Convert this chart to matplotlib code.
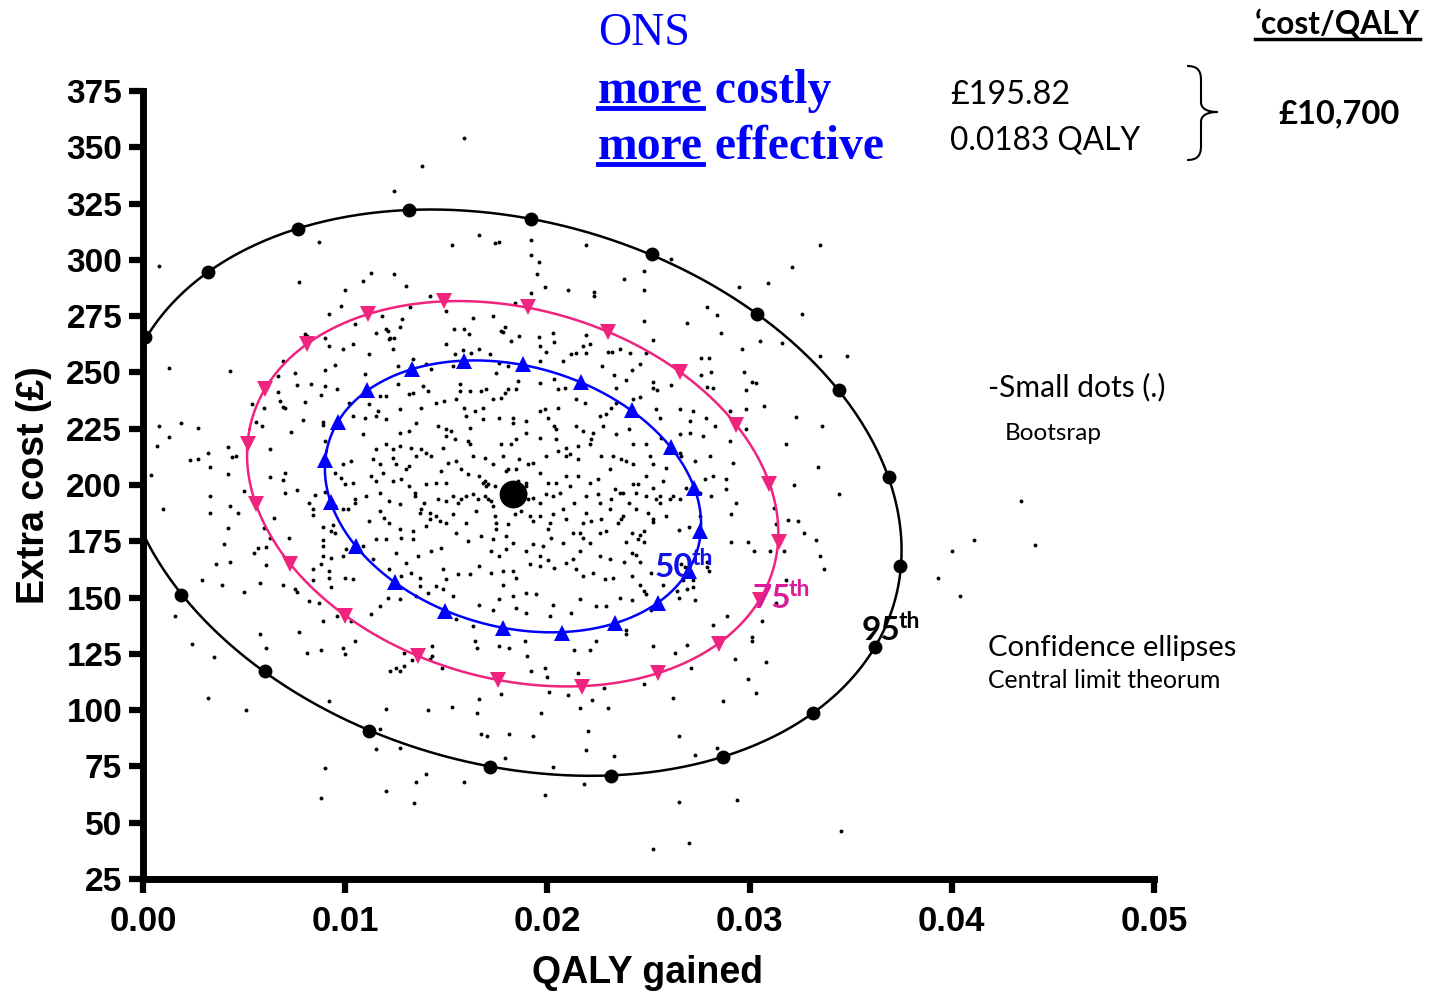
import numpy as np
import matplotlib
matplotlib.use("Agg")
import matplotlib.pyplot as plt
from matplotlib.lines import Line2D
from matplotlib.path import Path
from matplotlib.patches import PathPatch

W, H = 1437, 993

# mean result (ONS vs comparator)
mean_qaly = 0.0183
mean_cost = 195.82

# confidence ellipse markers (QALY, £)
e95 = [(0.00012, 265.6), (0.00319, 294.5), (0.00769, 313.6), (0.01318, 322.1),
       (0.01921, 318.1), (0.02515, 302.5), (0.03039, 275.8), (0.03440, 242.0),
       (0.03687, 203.4), (0.03746, 164.2), (0.03622, 128.2), (0.03316, 98.9),
       (0.02866, 79.3), (0.02317, 70.9), (0.01714, 74.9), (0.01120, 90.9),
       (0.00601, 117.6), (0.00190, 151.3)]
e75 = [(0.01491, 281.6), (0.01115, 275.8), (0.00809, 262.5), (0.00601, 242.5),
       (0.00517, 218.0), (0.00561, 191.4), (0.00725, 165.1), (0.00997, 142.0),
       (0.01358, 124.2), (0.01758, 113.6), (0.02169, 110.4), (0.02545, 116.7),
       (0.02851, 129.6), (0.03049, 149.1), (0.03143, 174.5), (0.03098, 200.3),
       (0.02935, 226.5), (0.02658, 250.1), (0.02302, 267.8), (0.01902, 279.0)]
e50 = [(0.01590, 254.9), (0.01877, 253.6), (0.02164, 245.6), (0.02416, 233.2),
       (0.02609, 216.7), (0.02727, 198.5), (0.02757, 179.4), (0.02698, 161.6),
       (0.02549, 147.8), (0.02332, 138.9), (0.02070, 134.4), (0.01778, 136.7),
       (0.01496, 144.2), (0.01244, 156.7), (0.01051, 173.1), (0.00932, 192.3),
       (0.00898, 210.9), (0.00962, 227.8), (0.01110, 242.1), (0.01328, 251.4)]

# bootstrap replicates (QALY, £)
boot_top = [(0.0159, 354.1), (0.0138, 341.7), (0.0124, 330.5), (0.0087, 307.9), (0.0008, 297.2),
            (0.0166, 311.0), (0.0153, 306.5), (0.0174, 307.4), (0.0176, 307.9), (0.0192, 308.8),
            (0.0192, 302.1), (0.0196, 299.0), (0.0195, 293.6), (0.0199, 287.9), (0.0192, 285.2),
            (0.0219, 306.5), (0.0210, 286.5), (0.0223, 285.6), (0.0223, 283.9), (0.0077, 290.1),
            (0.0113, 294.1), (0.0109, 290.5), (0.0124, 293.6), (0.0130, 288.3), (0.0100, 286.5),
            (0.0098, 279.4), (0.0092, 275.9), (0.0142, 283.9), (0.0132, 279.0), (0.0118, 275.0),
            (0.0128, 273.6), (0.0105, 271.4), (0.0127, 270.1), (0.0120, 269.2), (0.0121, 268.3),
            (0.0115, 267.4), (0.0150, 277.2), (0.0163, 274.1), (0.0173, 275.0), (0.0184, 280.7),
            (0.0154, 269.2), (0.0159, 269.2), (0.0161, 267.0), (0.0179, 270.1), (0.0177, 268.3),
            (0.0178, 267.9), (0.0186, 266.1), (0.0196, 265.6), (0.0203, 267.4), (0.0219, 266.5),
            (0.0080, 267.0), (0.0081, 266.1), (0.0122, 265.2), (0.0124, 265.2)]
boot_top_right = [(0.0335, 306.5), (0.0321, 296.8), (0.0309, 289.6), (0.0295, 287.9), (0.0261, 300.3),
                  (0.0248, 295.0), (0.0238, 291.4), (0.0248, 286.5), (0.0279, 279.0), (0.0284, 275.4),
                  (0.0326, 275.9), (0.0248, 272.7), (0.0269, 271.9), (0.0286, 267.4), (0.0305, 263.9),
                  (0.0316, 263.0), (0.0296, 260.3), (0.0335, 257.2), (0.0348, 257.2), (0.0252, 264.3),
                  (0.0230, 259.0), (0.0232, 259.0), (0.0236, 260.3), (0.0241, 258.5), (0.0249, 258.5),
                  (0.0276, 256.3), (0.0280, 256.3), (0.0246, 253.6), (0.0242, 251.0), (0.0233, 248.7),
                  (0.0239, 246.5), (0.0276, 248.7), (0.0281, 250.1), (0.0297, 250.1), (0.0301, 245.6),
                  (0.0303, 245.2), (0.0252, 245.6), (0.0252, 243.0), (0.0254, 242.1), (0.0261, 244.3),
                  (0.0279, 243.4), (0.0282, 243.0), (0.0298, 242.1), (0.0246, 239.0), (0.0234, 243.0),
                  (0.0227, 252.7),
                  (0.0307, 235.0), (0.0323, 230.0), (0.0336, 226.0), (0.0318, 218.0), (0.0334, 208.0),
                  (0.0322, 200.0), (0.0344, 196.0), (0.0312, 190.0)]
boot_left = [(0.0013, 251.8), (0.0043, 250.5), (0.0008, 226.1), (0.0019, 227.4), (0.0027, 225.2),
             (0.0013, 221.2), (0.0007, 217.2), (0.0023, 211.0), (0.0027, 211.4), (0.0032, 214.0),
             (0.0042, 216.7), (0.0044, 212.3), (0.0046, 212.7), (0.0033, 207.8), (0.0042, 204.7),
             (0.0004, 204.3), (0.0033, 195.0), (0.0050, 197.2), (0.0010, 189.2), (0.0043, 190.5),
             (0.0033, 187.4), (0.0047, 187.4), (0.0042, 180.7), (0.0040, 174.0), (0.0036, 165.1),
             (0.0043, 166.0), (0.0029, 157.6), (0.0039, 155.4), (0.0050, 152.3), (0.0016, 141.6),
             (0.0024, 129.6), (0.0035, 123.4), (0.0058, 133.6), (0.0061, 127.4), (0.0058, 156.3),
             (0.0061, 164.3), (0.0055, 170.0), (0.0057, 171.8), (0.0061, 172.3), (0.0065, 185.2),
             (0.0060, 180.7), (0.0063, 176.3), (0.0054, 235.8), (0.0056, 227.8), (0.0059, 226.1),
             (0.0060, 234.1), (0.0063, 215.8), (0.0063, 203.4), (0.0067, 241.2), (0.0068, 237.2),
             (0.0069, 234.5), (0.0070, 234.1), (0.0067, 248.3), (0.0069, 255.0), (0.0075, 249.6),
             (0.0076, 244.3), (0.0080, 236.7), (0.0083, 244.7), (0.0079, 228.7), (0.0073, 223.4),
             (0.0070, 205.2), (0.0069, 202.1), (0.0070, 196.3), (0.0076, 198.0), (0.0072, 176.3),
             (0.0082, 191.8), (0.0084, 189.2), (0.0085, 195.4), (0.0084, 186.5), (0.0069, 155.8),
             (0.0075, 154.0), (0.0076, 152.3), (0.0082, 148.3), (0.0087, 147.8), (0.0084, 158.0),
             (0.0084, 162.9), (0.0077, 134.9), (0.0081, 125.6), (0.0088, 126.5), (0.0089, 139.8),
             (0.0096, 141.6), (0.0099, 127.4), (0.0090, 265.2), (0.0092, 261.6), (0.0095, 253.2),
             (0.0090, 251.0), (0.0096, 242.5), (0.0090, 243.8), (0.0088, 239.8), (0.0089, 227.8),
             (0.0089, 226.5), (0.0090, 219.4), (0.0095, 205.2), (0.0098, 203.0), (0.0090, 196.7),
             (0.0095, 190.5), (0.0089, 181.2), (0.0093, 179.4), (0.0095, 178.5), (0.0094, 182.1),
             (0.0089, 175.4), (0.0089, 172.7), (0.0089, 168.3), (0.0093, 167.4), (0.0088, 165.1),
             (0.0092, 161.6), (0.0092, 158.9), (0.0093, 154.5)]
boot_bottom = [(0.0032, 105.6), (0.0051, 99.9), (0.0100, 125.1), (0.0105, 130.9), (0.0092, 104.2),
               (0.0090, 74.4), (0.0088, 61.1), (0.0117, 91.8), (0.0115, 82.9), (0.0127, 83.4),
               (0.0120, 100.7), (0.0120, 64.2), (0.0135, 68.2), (0.0140, 71.8), (0.0134, 58.9),
               (0.0159, 68.2), (0.0141, 100.2), (0.0153, 101.6), (0.0165, 98.9), (0.0166, 105.1),
               (0.0167, 89.6), (0.0170, 88.7), (0.0181, 89.6), (0.0193, 88.7), (0.0179, 78.9),
               (0.0177, 107.3), (0.0197, 98.9), (0.0201, 108.2), (0.0210, 106.9), (0.0216, 101.1),
               (0.0222, 104.7), (0.0220, 90.9), (0.0219, 82.5), (0.0203, 74.9), (0.0199, 62.4),
               (0.0218, 67.3), (0.0122, 117.6), (0.0125, 118.5), (0.0127, 117.6), (0.0129, 119.4),
               (0.0133, 122.1), (0.0129, 125.6), (0.0142, 122.9), (0.0143, 124.2), (0.0143, 128.7),
               (0.0148, 118.9), (0.0164, 130.5), (0.0165, 127.8), (0.0176, 128.7), (0.0181, 127.8),
               (0.0189, 130.5), (0.0190, 124.2), (0.0192, 117.6), (0.0199, 118.5), (0.0200, 114.5),
               (0.0215, 116.3), (0.0213, 126.9), (0.0221, 126.5), (0.0224, 130.9),
               (0.0252, 128.7), (0.0269, 129.1), (0.0263, 125.6), (0.0301, 130.5), (0.0293, 122.5),
               (0.0308, 121.6), (0.0271, 118.5), (0.0299, 114.0), (0.0303, 107.8), (0.0248, 111.4),
               (0.0228, 110.0), (0.0262, 105.6), (0.0287, 104.2), (0.0230, 101.1), (0.0265, 88.7),
               (0.0284, 83.3), (0.0273, 80.2), (0.0233, 79.8), (0.0265, 59.3), (0.0294, 60.2),
               (0.0345, 46.4), (0.0252, 38.4), (0.0270, 41.1)]
boot_right = [(0.0252, 183.4), (0.0265, 179.8), (0.0270, 181.2), (0.0242, 178.9), (0.0246, 178.0),
              (0.0248, 179.4), (0.0245, 175.8), (0.0248, 174.5), (0.0239, 174.9), (0.0242, 170.0),
              (0.0244, 169.1), (0.0238, 166.0), (0.0246, 165.6), (0.0251, 161.1), (0.0242, 159.4),
              (0.0266, 164.7), (0.0268, 163.8), (0.0279, 165.6), (0.0279, 163.8), (0.0280, 161.6),
              (0.0267, 157.6), (0.0272, 157.6), (0.0246, 155.8), (0.0257, 155.8), (0.0272, 154.9),
              (0.0248, 153.1), (0.0249, 151.8), (0.0264, 153.1), (0.0269, 153.6), (0.0265, 149.6),
              (0.0273, 148.7), (0.0242, 148.7), (0.0251, 144.7), (0.0239, 135.8), (0.0239, 133.6),
              (0.0291, 174.9), (0.0299, 174.5), (0.0302, 170.5), (0.0310, 170.5), (0.0317, 170.9),
              (0.0313, 182.5), (0.0319, 184.3), (0.0324, 183.8), (0.0327, 178.5), (0.0333, 175.4),
              (0.0335, 168.3), (0.0337, 162.9), (0.0318, 157.6), (0.0313, 147.8), (0.0289, 141.6),
              (0.0282, 137.6), (0.0306, 139.4), (0.0301, 132.7), (0.0393, 158.5), (0.0434, 192.7),
              (0.0411, 175.4), (0.0400, 170.9), (0.0441, 173.2), (0.0404, 150.9)]
boot_core = [(0.01038, 262.8), (0.00988, 260.6), (0.01236, 260.3), (0.01120, 258.1), (0.01219, 264.8),
             (0.01500, 262.5), (0.01541, 258.1), (0.01582, 260.0), (0.01623, 258.8), (0.01664, 260.6),
             (0.01821, 264.0), (0.01961, 261.8), (0.01994, 259.1), (0.02035, 263.3), (0.02176, 261.8),
             (0.02192, 258.8), (0.02209, 262.5), (0.02077, 255.1), (0.02118, 258.1), (0.02143, 258.8),
             (0.01961, 255.1), (0.01763, 254.4), (0.01714, 258.1),
             (0.01096, 249.2), (0.01260, 252.9), (0.01335, 255.9), (0.01401, 253.6), (0.01425, 251.4),
             (0.01533, 252.9), (0.01747, 249.9), (0.01805, 252.9), (0.01854, 246.2), (0.01846, 242.5),
             (0.01805, 242.5), (0.01788, 241.0), (0.01566, 241.8), (0.01615, 241.8), (0.01673, 241.8),
             (0.01697, 242.5), (0.01566, 244.7), (0.01961, 245.5), (0.02035, 247.0), (0.02052, 242.5),
             (0.02085, 243.3), (0.02143, 238.1), (0.02184, 236.6), (0.01384, 244.0), (0.01409, 241.8),
             (0.01335, 241.0), (0.01318, 240.3), (0.01260, 244.7), (0.01203, 239.6), (0.01170, 239.6),
             (0.01162, 232.9), (0.01120, 235.9), (0.01021, 236.6), (0.01038, 230.7),
             (0.01269, 233.6), (0.01376, 234.4), (0.01450, 236.6), (0.01491, 237.3), (0.01549, 238.1),
             (0.01590, 234.4), (0.01599, 230.7), (0.01640, 232.9), (0.01681, 234.4), (0.01730, 238.1),
             (0.01772, 238.8), (0.01829, 229.9), (0.01895, 228.4), (0.01961, 232.9), (0.01986, 233.6),
             (0.02052, 234.4), (0.02003, 229.9), (0.02035, 226.2), (0.02044, 224.7), (0.02143, 226.2),
             (0.02176, 224.0), (0.02225, 223.3), (0.02258, 230.7), (0.02291, 231.4), (0.02316, 234.4),
             (0.02341, 236.6), (0.02423, 238.1), (0.02538, 233.6), (0.02555, 229.9), (0.02654, 233.6),
             (0.02703, 228.4), (0.02720, 232.9), (0.02786, 229.9), (0.02827, 226.2), (0.02901, 232.9),
             (0.02984, 233.6),
             (0.01351, 227.7), (0.01318, 224.0), (0.01269, 223.3), (0.01203, 229.5), (0.01153, 230.7),
             (0.01096, 229.9), (0.01087, 222.5), (0.01458, 226.2), (0.01500, 224.7), (0.01524, 224.0),
             (0.01500, 221.8), (0.01541, 220.3), (0.01607, 219.5), (0.01615, 225.5), (0.01681, 229.2),
             (0.01763, 229.9), (0.01829, 227.7), (0.01772, 218.1), (0.01821, 218.1), (0.01846, 220.3),
             (0.01895, 223.3), (0.01961, 221.0), (0.02044, 220.3), (0.02093, 216.6), (0.02110, 213.6),
             (0.02151, 217.3), (0.02217, 220.3), (0.02275, 226.2), (0.02341, 222.5), (0.02406, 224.7),
             (0.02423, 218.1), (0.02489, 218.1), (0.02563, 221.0), (0.02654, 222.5), (0.02703, 223.3),
             (0.02769, 221.8), (0.02662, 212.9), (0.02728, 210.7), (0.02802, 212.9), (0.02901, 219.5),
             (0.02984, 224.7),
             (0.01153, 215.8), (0.01203, 218.1), (0.01236, 215.8), (0.01269, 217.3), (0.01326, 216.6),
             (0.01376, 215.8), (0.01351, 212.9), (0.01401, 214.4), (0.01425, 212.9), (0.01483, 216.6),
             (0.01549, 210.7), (0.01615, 218.1), (0.01631, 212.9), (0.01689, 212.1), (0.01730, 209.2),
             (0.01780, 212.9), (0.01805, 207.0), (0.01862, 211.4), (0.01904, 209.2), (0.01928, 209.9),
             (0.01994, 212.9), (0.02052, 215.1), (0.02093, 212.9), (0.02151, 211.4), (0.02209, 218.1),
             (0.02266, 212.9), (0.02324, 212.9), (0.02365, 211.4), (0.02390, 210.7), (0.02423, 209.2),
             (0.02505, 212.9), (0.02522, 209.2), (0.02588, 207.7), (0.02654, 214.4), (0.02778, 202.5),
             (0.02819, 204.0), (0.02885, 202.5), (0.02918, 209.9), (0.01137, 211.4), (0.01030, 210.7),
             (0.00988, 209.2), (0.01129, 204.0), (0.01153, 201.8), (0.01236, 212.1), (0.01252, 209.2),
             (0.01318, 208.4), (0.01302, 207.0), (0.01170, 209.2), (0.01186, 205.5), (0.01236, 201.8),
             (0.01277, 202.5), (0.01318, 199.5), (0.01343, 196.6), (0.01401, 200.3), (0.01450, 201.0),
             (0.01500, 201.0), (0.01475, 206.2), (0.01508, 209.9), (0.01574, 207.0), (0.01607, 204.7),
             (0.01664, 204.0), (0.01689, 201.8), (0.01706, 200.3), (0.01739, 199.5), (0.01796, 206.2),
             (0.01846, 207.0), (0.01854, 201.8), (0.01895, 201.0), (0.01961, 205.5), (0.02003, 201.0),
             (0.02044, 201.0), (0.02093, 204.0), (0.02151, 204.0), (0.02209, 201.0), (0.02250, 202.5),
             (0.02308, 207.0), (0.02332, 198.1), (0.02357, 196.6), (0.02423, 200.3), (0.02448, 200.3),
             (0.02489, 204.0), (0.02522, 198.8), (0.02571, 201.8), (0.02621, 195.1), (0.02654, 193.6),
             (0.02538, 193.6), (0.02555, 192.1),
             (0.01038, 201.0), (0.00997, 200.3), (0.00988, 189.2), (0.01013, 189.2), (0.01046, 192.1),
             (0.01046, 193.6), (0.01104, 195.1), (0.01170, 196.6), (0.01219, 192.9), (0.01269, 191.4),
             (0.01343, 195.1), (0.01392, 192.1), (0.01368, 187.7), (0.01417, 187.7), (0.01417, 184.7),
             (0.01450, 186.2), (0.01467, 184.0), (0.01458, 193.6), (0.01500, 192.9), (0.01533, 195.1),
             (0.01557, 192.1), (0.01574, 193.6), (0.01599, 195.1), (0.01631, 195.8), (0.01656, 193.6),
             (0.01689, 195.1), (0.01706, 193.6), (0.01722, 192.9), (0.01730, 190.7), (0.01681, 201.0),
             (0.01697, 199.5), (0.01895, 199.5), (0.01887, 196.6), (0.01904, 193.6), (0.01928, 194.4),
             (0.01961, 192.1), (0.01994, 195.8), (0.02027, 195.1), (0.02060, 196.6), (0.02110, 199.5),
             (0.02134, 192.1), (0.02192, 195.1), (0.02250, 195.8), (0.02258, 192.1), (0.02316, 193.6),
             (0.02374, 196.6), (0.02406, 192.1), (0.02439, 196.6), (0.02489, 195.1), (0.02555, 195.1),
             (0.02604, 193.6), (0.02687, 198.8), (0.02753, 196.6), (0.02811, 195.1), (0.02885, 198.1),
             (0.02934, 192.1),
             (0.01120, 184.0), (0.01170, 188.4), (0.01194, 185.5), (0.01219, 183.2), (0.01269, 180.3),
             (0.01335, 179.5), (0.01376, 189.2), (0.01401, 181.8), (0.01500, 183.2), (0.01533, 187.0),
             (0.01549, 178.8), (0.01599, 183.2), (0.01648, 188.4), (0.01739, 186.2), (0.01747, 183.2),
             (0.01747, 180.3), (0.01730, 175.8), (0.01796, 177.3), (0.01805, 182.5), (0.01838, 187.0),
             (0.01870, 188.4), (0.01912, 186.2), (0.01928, 184.0), (0.01961, 186.2), (0.02011, 183.2),
             (0.02003, 180.3), (0.02027, 187.0), (0.02077, 189.2), (0.02093, 184.7), (0.02126, 178.8),
             (0.02159, 178.8), (0.02176, 183.2), (0.02192, 187.7), (0.02217, 184.0), (0.02266, 184.7),
             (0.02258, 178.8), (0.02291, 179.5), (0.02308, 189.2), (0.02349, 183.2), (0.02365, 184.7),
             (0.02374, 186.2), (0.02439, 189.2), (0.02497, 187.7), (0.02522, 184.7), (0.02588, 186.2),
             (0.02753, 186.2), (0.02910, 187.0),
             (0.00988, 168.4), (0.01005, 171.4), (0.01087, 172.9), (0.01137, 167.0), (0.01153, 175.8),
             (0.01203, 175.8), (0.01277, 176.6), (0.01335, 175.8), (0.01252, 169.9), (0.01302, 165.5),
             (0.01359, 168.4), (0.01425, 170.6), (0.01475, 172.1), (0.01607, 175.1), (0.01673, 177.3),
             (0.01722, 170.6), (0.01763, 168.4), (0.01796, 171.4), (0.01829, 174.4), (0.01895, 170.6),
             (0.01928, 173.6), (0.01978, 172.9), (0.02019, 176.6), (0.02077, 174.4), (0.02126, 167.0),
             (0.02159, 170.6), (0.02176, 176.6), (0.02209, 174.4), (0.02258, 168.4), (0.02308, 167.0),
             (0.00997, 158.8), (0.01038, 158.1), (0.01219, 162.5), (0.01277, 159.5), (0.01326, 161.0),
             (0.01368, 158.8), (0.01368, 155.1), (0.01450, 155.1), (0.01483, 162.5), (0.01500, 158.1),
             (0.01557, 160.3), (0.01615, 160.3), (0.01664, 164.0), (0.01722, 161.0), (0.01780, 161.8),
             (0.01829, 161.8), (0.01846, 158.8), (0.01912, 164.7), (0.01961, 168.4), (0.02003, 166.9),
             (0.01961, 164.0), (0.02035, 163.2), (0.02093, 165.5), (0.02143, 162.5), (0.02176, 159.5),
             (0.02225, 161.0), (0.02283, 158.1), (0.02324, 158.8),
             (0.01030, 139.5), (0.01129, 142.5), (0.01170, 146.2), (0.01211, 149.9), (0.01269, 149.2),
             (0.01351, 150.6), (0.01409, 152.1), (0.01483, 153.6), (0.01533, 150.6), (0.01549, 140.3),
             (0.01631, 137.3), (0.01664, 146.9), (0.01730, 144.7), (0.01763, 149.2), (0.01780, 155.8),
             (0.01829, 150.6), (0.01846, 145.5), (0.01895, 152.1), (0.01945, 151.4), (0.01895, 143.2),
             (0.02011, 141.7), (0.02027, 146.9), (0.02118, 143.2), (0.02159, 149.2), (0.02242, 146.2),
             (0.02291, 146.2), (0.02357, 149.9)]

x_ticks = [0.00, 0.01, 0.02, 0.03, 0.04, 0.05]
y_ticks = list(range(25, 376, 25))


def fit_ellipse(points, n=600):
    # least-squares conic through the marker positions, returned as a closed curve
    q = np.array([p[0] for p in points]) * 1e4
    c = np.array([p[1] for p in points])
    mx, my = q.mean(), c.mean()
    u, v = q - mx, c - my
    A = np.column_stack([u * u, u * v, v * v, u, v])
    a, b, cc, d, e = np.linalg.lstsq(A, np.ones_like(u), rcond=None)[0]
    M = np.array([[a, b / 2], [b / 2, cc]])
    g = np.array([d, e])
    x0 = -np.linalg.solve(M, g) / 2
    k = 1 + x0 @ M @ x0
    w, V = np.linalg.eigh(M)
    t = np.linspace(0, 2 * np.pi, n)
    pts = V @ np.vstack([np.sqrt(k / w[0]) * np.cos(t), np.sqrt(k / w[1]) * np.sin(t)])
    return (pts[0] + x0[0] + mx) / 1e4, pts[1] + x0[1] + my


def fx(x):
    return x / W


def fy(y):
    return 1 - y / H


fig = plt.figure(figsize=(W / 100, H / 100), dpi=100)
ax = fig.add_axes([fx(143), fy(879), (1154 - 143) / W, (879 - 91) / H])

# bootstrap cloud
for grp in [boot_top, boot_top_right, boot_left, boot_bottom, boot_right, boot_core]:
    bq, bc = zip(*grp)
    ax.plot(bq, bc, 'o', color='black', ms=2.8, mew=0, zorder=2)

pink = '#F0247E'
for pts, col, mk, ms in [(e95, 'black', 'o', 10), (e75, pink, 'v', 12), (e50, '#0000FF', '^', 12)]:
    ex, ey = fit_ellipse(pts)
    ax.plot(ex, ey, '-', color=col, lw=1.8, zorder=3)
    mq, mc = zip(*pts)
    ax.plot(mq, mc, mk, color=col, ms=ms, mew=0, zorder=4)

ax.plot([mean_qaly], [mean_cost], 'o', color='black', ms=19, zorder=5)

ax.set_xlim(0, 0.05)
ax.set_ylim(25, 375)
ax.set_xticks(x_ticks)
ax.set_xticklabels([f"{v:.2f}" for v in x_ticks])
ax.set_yticks(y_ticks)
for s in ['top', 'right']:
    ax.spines[s].set_visible(False)
for s in ['left', 'bottom']:
    ax.spines[s].set_linewidth(5)
ax.tick_params(axis='both', direction='out', length=10, width=4.5, labelsize=24, pad=5)
ax.tick_params(axis='x', labelsize=25, pad=9)
for lab in ax.get_xticklabels() + ax.get_yticklabels():
    lab.set_fontweight('bold')
    lab.set_family('Liberation Sans')
ax.set_ylabel("Extra cost (£)", fontsize=27, fontweight='bold', family='Liberation Sans', labelpad=10)
fig.text(fx(647), fy(983), "QALY gained", fontsize=27, fontweight='bold', family='Liberation Sans',
         ha='center', va='baseline')

# percentile labels
lab_font = dict(family='Lato', fontweight='bold')
for txt, sup, col, x, y in [("50", "th", '#1010E8', 655, 577), ("75", "th", '#D81C9A', 752, 608),
                            ("95", "th", 'black', 862, 640)]:
    fig.text(fx(x), fy(y), txt, color=col, fontsize=24, va='baseline', ha='left', **lab_font)
    fig.text(fx(x + 37), fy(y - 12), sup, color=col, fontsize=16.5, va='baseline', ha='left', **lab_font)

# header texts
serif = 'Liberation Serif'
blue = '#0000FF'
fig.text(fx(598), fy(45), "ONS", color=blue, fontsize=33, family=serif, va='baseline')
fig.canvas.draw()
rend = fig.canvas.get_renderer()
for y, rest in [(103, " costly"), (159, " effective")]:
    t = fig.text(fx(598), fy(y), "more", color=blue, fontsize=34.3, family=serif,
                 fontweight='bold', va='baseline')
    bb = t.get_window_extent(renderer=rend)
    fig.text(bb.x1 / W, fy(y), rest, color=blue, fontsize=34.3, family=serif,
             fontweight='bold', va='baseline')
    fig.add_artist(Line2D([bb.x0 / W, bb.x1 / W], [fy(y + 5), fy(y + 5)], color=blue, lw=3.5))

side = 'Lato'
fig.text(fx(950), fy(104), "£195.82", fontsize=23.3, family=side, va='baseline')
fig.text(fx(950), fy(149), "0.0183 QALY", fontsize=22.8, family=side, va='baseline')
fig.text(fx(1278), fy(123), "£10,700", fontsize=23.5, family=side, fontweight='bold', va='baseline')
t = fig.text(fx(1255), fy(33), "\u2018cost/QALY", fontsize=22.8, family=side, fontweight='bold', va='baseline')
bb = t.get_window_extent(renderer=rend)
fig.add_artist(Line2D([bb.x0 / W, bb.x1 / W], [fy(39), fy(39)], color='black', lw=2.5))

fig.text(fx(988), fy(396), "-Small dots (.)", fontsize=21.6, family=side, va='baseline')
fig.text(fx(1005), fy(440), "Bootsrap", fontsize=17.5, family=side, va='baseline')
fig.text(fx(988), fy(656), "Confidence ellipses", fontsize=21.1, family=side, va='baseline')
fig.text(fx(988), fy(688), "Central limit theorum", fontsize=17.8, family=side, va='baseline')

# curly brace
bx = [(1187, 66), (1197, 66), (1201, 70), (1201, 80), (1201, 102), (1201, 108), (1206, 112), (1218, 112),
      (1206, 112), (1201, 116), (1201, 122), (1201, 146), (1201, 156), (1197, 160), (1187, 160)]
codes = [Path.MOVETO, Path.CURVE4, Path.CURVE4, Path.CURVE4, Path.LINETO, Path.CURVE4, Path.CURVE4,
         Path.CURVE4, Path.CURVE4, Path.CURVE4, Path.CURVE4, Path.LINETO, Path.CURVE4, Path.CURVE4, Path.CURVE4]
brace = Path([(fx(x), fy(y)) for x, y in bx], codes)
fig.add_artist(PathPatch(brace, fill=False, lw=1.5, color='black', transform=fig.transFigure))

fig.savefig("out.png", dpi=100)
